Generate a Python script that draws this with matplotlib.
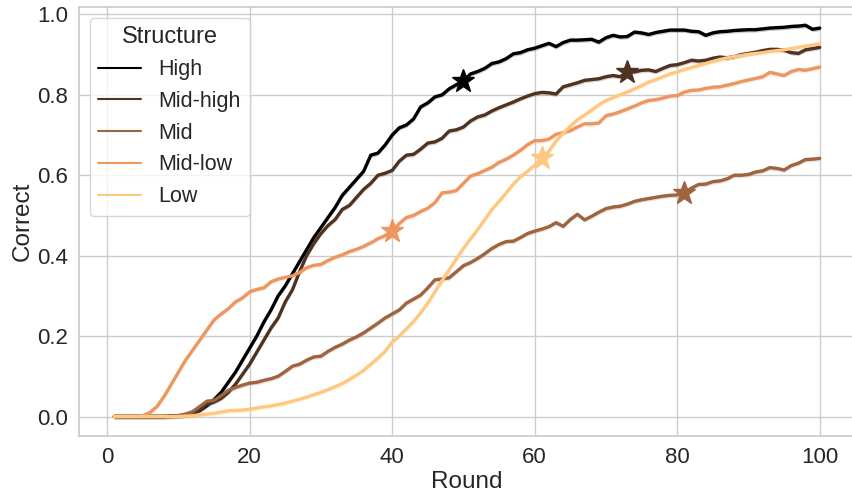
import numpy as np
import matplotlib
matplotlib.use("Agg")
import matplotlib.pyplot as plt
import seaborn as sns

rounds = np.arange(1, 101)
structures = ["High", "Mid-high", "Mid", "Mid-low", "Low"]

high = [0.000, 0.000, 0.000, 0.000, 0.000, 0.000, 0.000, 0.000, 0.001, 0.002,
        0.004, 0.008, 0.015, 0.027, 0.042, 0.060, 0.085, 0.110, 0.140, 0.170,
        0.200, 0.235, 0.265, 0.300, 0.325, 0.355, 0.385, 0.415, 0.445, 0.470,
        0.495, 0.520, 0.550, 0.570, 0.590, 0.610, 0.650, 0.655, 0.675, 0.700,
        0.718, 0.725, 0.740, 0.770, 0.780, 0.795, 0.800, 0.815, 0.825, 0.835,
        0.852, 0.858, 0.866, 0.878, 0.882, 0.890, 0.902, 0.905, 0.912, 0.916,
        0.922, 0.928, 0.920, 0.930, 0.936, 0.936, 0.937, 0.938, 0.931, 0.942,
        0.948, 0.944, 0.945, 0.956, 0.954, 0.950, 0.955, 0.958, 0.961, 0.961,
        0.961, 0.958, 0.957, 0.948, 0.954, 0.957, 0.958, 0.960, 0.961, 0.962,
        0.962, 0.964, 0.966, 0.967, 0.968, 0.970, 0.971, 0.973, 0.963, 0.966]

mid_high = [0.000, 0.000, 0.000, 0.000, 0.000, 0.000, 0.000, 0.000, 0.000, 0.001,
            0.003, 0.008, 0.017, 0.030, 0.036, 0.045, 0.060, 0.080, 0.105, 0.130,
            0.160, 0.190, 0.220, 0.245, 0.285, 0.315, 0.360, 0.400, 0.430, 0.455,
            0.475, 0.490, 0.515, 0.525, 0.545, 0.565, 0.580, 0.600, 0.605, 0.612,
            0.635, 0.650, 0.652, 0.665, 0.680, 0.683, 0.692, 0.710, 0.713, 0.720,
            0.735, 0.745, 0.750, 0.760, 0.768, 0.775, 0.782, 0.790, 0.797, 0.803,
            0.806, 0.805, 0.802, 0.820, 0.825, 0.830, 0.836, 0.838, 0.840, 0.845,
            0.848, 0.845, 0.857, 0.857, 0.861, 0.862, 0.858, 0.866, 0.873, 0.875,
            0.880, 0.886, 0.884, 0.886, 0.891, 0.894, 0.892, 0.895, 0.900, 0.903,
            0.906, 0.910, 0.913, 0.913, 0.911, 0.905, 0.903, 0.912, 0.915, 0.918]

mid = [0.000, 0.000, 0.000, 0.000, 0.000, 0.000, 0.000, 0.000, 0.001, 0.002,
       0.006, 0.012, 0.025, 0.038, 0.040, 0.052, 0.065, 0.072, 0.078, 0.083,
       0.085, 0.090, 0.094, 0.100, 0.112, 0.125, 0.130, 0.140, 0.148, 0.150,
       0.162, 0.172, 0.180, 0.190, 0.198, 0.208, 0.220, 0.232, 0.245, 0.255,
       0.265, 0.282, 0.292, 0.302, 0.320, 0.340, 0.342, 0.345, 0.360, 0.375,
       0.383, 0.393, 0.405, 0.418, 0.428, 0.435, 0.436, 0.445, 0.455, 0.461,
       0.466, 0.472, 0.482, 0.473, 0.490, 0.503, 0.489, 0.498, 0.508, 0.517,
       0.521, 0.523, 0.528, 0.535, 0.539, 0.542, 0.545, 0.548, 0.550, 0.551,
       0.556, 0.568, 0.577, 0.578, 0.584, 0.586, 0.591, 0.600, 0.600, 0.602,
       0.608, 0.611, 0.619, 0.617, 0.613, 0.624, 0.630, 0.639, 0.640, 0.642]

mid_low = [0.000, 0.000, 0.000, 0.000, 0.002, 0.010, 0.025, 0.050, 0.080, 0.110,
           0.140, 0.165, 0.190, 0.215, 0.240, 0.255, 0.268, 0.285, 0.295, 0.310,
           0.316, 0.320, 0.335, 0.342, 0.346, 0.350, 0.358, 0.370, 0.376, 0.378,
           0.388, 0.396, 0.402, 0.410, 0.416, 0.423, 0.432, 0.442, 0.450, 0.462,
           0.480, 0.495, 0.500, 0.510, 0.518, 0.532, 0.556, 0.558, 0.562, 0.580,
           0.598, 0.604, 0.612, 0.620, 0.632, 0.640, 0.650, 0.662, 0.676, 0.686,
           0.686, 0.690, 0.702, 0.706, 0.711, 0.720, 0.728, 0.728, 0.730, 0.748,
           0.752, 0.758, 0.765, 0.772, 0.780, 0.786, 0.788, 0.792, 0.797, 0.798,
           0.807, 0.811, 0.812, 0.816, 0.819, 0.820, 0.824, 0.828, 0.833, 0.837,
           0.841, 0.845, 0.856, 0.852, 0.848, 0.858, 0.863, 0.861, 0.865, 0.869]

low = [0.000, 0.000, 0.000, 0.000, 0.000, 0.000, 0.000, 0.000, 0.000, 0.000,
       0.001, 0.002, 0.004, 0.006, 0.008, 0.011, 0.014, 0.015, 0.016, 0.018,
       0.021, 0.024, 0.026, 0.030, 0.033, 0.038, 0.043, 0.048, 0.054, 0.060,
       0.067, 0.074, 0.082, 0.092, 0.103, 0.115, 0.130, 0.145, 0.162, 0.185,
       0.200, 0.218, 0.236, 0.258, 0.282, 0.310, 0.338, 0.365, 0.392, 0.418,
       0.442, 0.465, 0.490, 0.515, 0.535, 0.556, 0.578, 0.596, 0.610, 0.625,
       0.642, 0.660, 0.685, 0.705, 0.722, 0.738, 0.750, 0.762, 0.775, 0.786,
       0.793, 0.800, 0.807, 0.815, 0.823, 0.832, 0.838, 0.845, 0.852, 0.857,
       0.863, 0.868, 0.873, 0.878, 0.883, 0.888, 0.892, 0.895, 0.898, 0.901,
       0.903, 0.905, 0.908, 0.910, 0.912, 0.915, 0.918, 0.921, 0.924, 0.927]

# round marked with a star on each curve
star_rounds = [50, 73, 81, 40, 61]

series = [high, mid_high, mid, mid_low, low]

sns.set_theme(style="whitegrid")
plt.rcParams['font.family'] = ['Liberation Sans', 'DejaVu Sans']

colors = plt.cm.copper(np.linspace(0, 1, 5))

fig = plt.figure(figsize=(8.52, 4.94), dpi=100)
ax = fig.add_axes([79/852, 58/494, 776/852, 429/494])

for name, vals, c, sr in zip(structures, series, colors, star_rounds):
    vals = np.array(vals)
    ax.fill_between(rounds, vals - 0.006, vals + 0.006, color=c, alpha=0.2, lw=0)
    ax.plot(rounds, vals, color=c, lw=2.4, label=name)
    ax.plot([sr], [vals[sr - 1]], marker='*', ms=17, color=c, ls='none', zorder=5)

ax.set_xlim(-3.95, 104.95)
ax.set_ylim(-0.0485, 1.0185)
ax.set_xticks([0, 20, 40, 60, 80, 100])
ax.set_yticks([0.0, 0.2, 0.4, 0.6, 0.8, 1.0])
ax.set_yticklabels(["0.0", "0.2", "0.4", "0.6", "0.8", "1.0"])
ax.tick_params(labelsize=16, length=0, pad=8, labelcolor='#262626')
ax.set_xlabel("Round", fontsize=17.5, labelpad=2, color='#262626')
ax.set_ylabel("Correct", fontsize=17.5, labelpad=2, color='#262626')

leg = ax.legend(title="Structure", loc="upper left", fontsize=15.5, title_fontsize=17)
for line in leg.get_lines():
    line.set_linewidth(1.5)

fig.savefig("out.png", dpi=100)
